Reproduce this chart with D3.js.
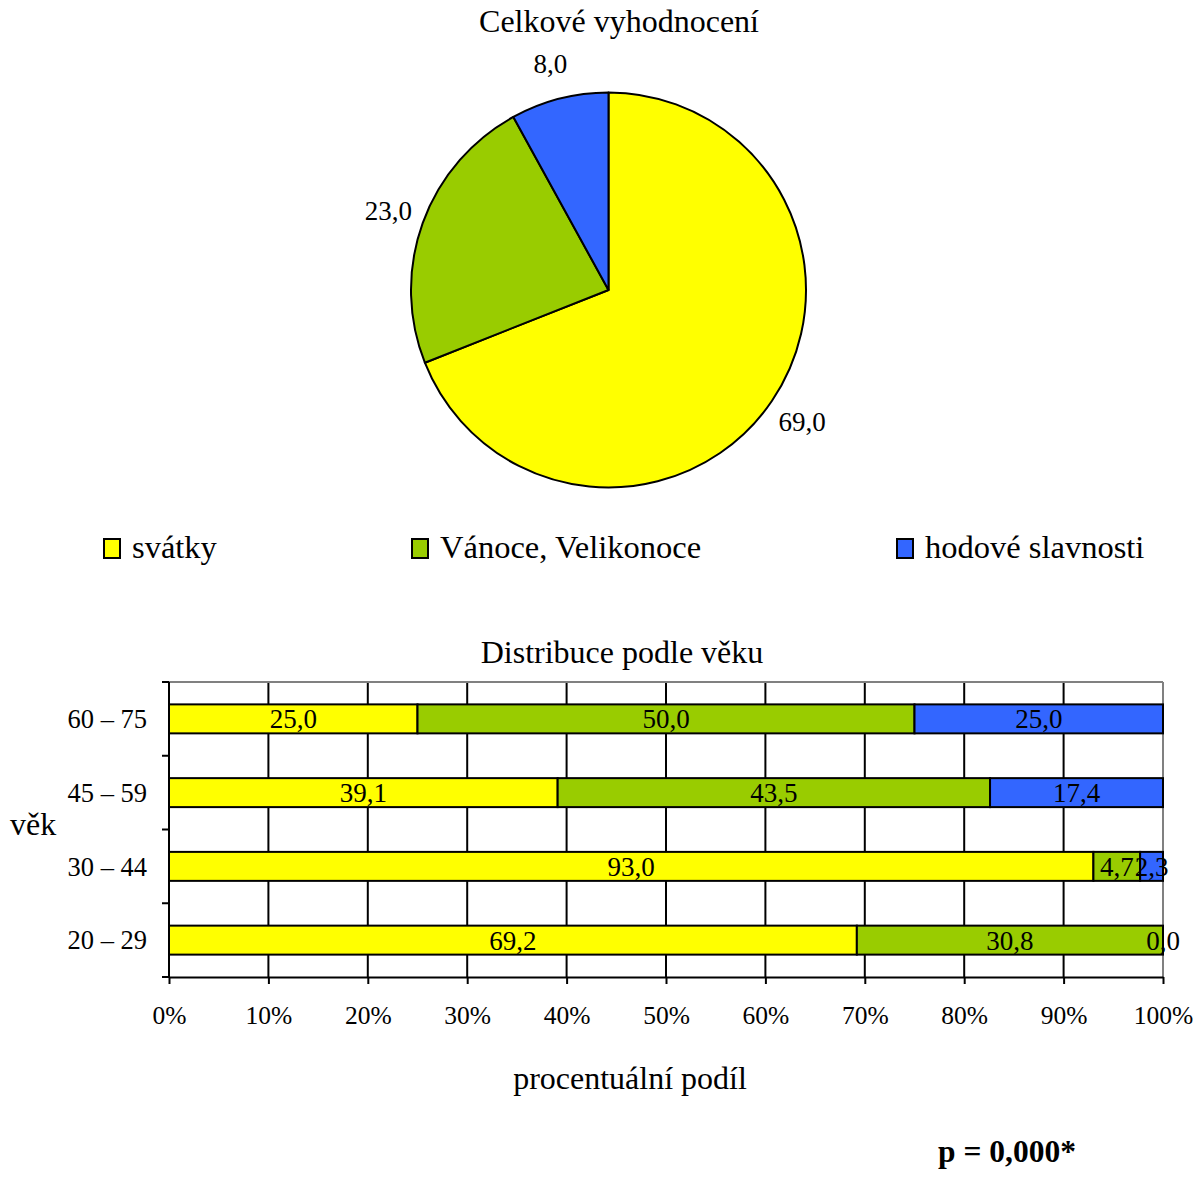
<!DOCTYPE html>
<html>
<head>
<meta charset="utf-8">
<script src="https://cdn.jsdelivr.net/npm/d3@7"></script>
<style>
html,body{margin:0;padding:0;background:#fff;}
svg, svg text{font-family:"Liberation Serif","Times New Roman",serif !important;fill:#000;}
</style>
</head>
<body>
<svg id="c" width="1204" height="1177"></svg>
<script>
// ---- data ----
const seriesNames = ["svátky", "Vánoce, Velikonoce", "hodové slavnosti"];
const seriesColors = ["#FFFF00", "#99CC00", "#3366FF"];
const pieValues = [69.0, 23.0, 8.0];
const ageGroups = ["60 – 75", "45 – 59", "30 – 44", "20 – 29"];
const svatky = [25.0, 39.1, 93.0, 69.2];
const vanoce = [50.0, 43.5, 4.7, 30.8];
const hodove = [25.0, 17.4, 2.3, 0.0];
const xTicks = [0, 10, 20, 30, 40, 50, 60, 70, 80, 90, 100];
const xTickLabels = ["0%","10%","20%","30%","40%","50%","60%","70%","80%","90%","100%"];

(function () {
const FONT = '"Liberation Serif", "Times New Roman", serif';
const fmt = v => v.toFixed(1).replace(".", ",");
const svg = d3.select("#c");

// ---- pie ----
svg.append("text").attr("x", 619).attr("y", 32).attr("text-anchor", "middle")
  .attr("font-size", 32).text("Celkové vyhodnocení");

const cx = 608.5, cy = 290, R = 197.5;
const pie = d3.pie().sort(null).value(d => d);
const arcs = pie(pieValues);
const arc = d3.arc().innerRadius(0).outerRadius(R);
const labelArc = d3.arc().innerRadius(234).outerRadius(234);
const gp = svg.append("g").attr("transform", `translate(${cx},${cy})`);
gp.selectAll("path").data(arcs).join("path")
  .attr("d", arc).attr("fill", (d, i) => seriesColors[i])
  .attr("stroke", "#000").attr("stroke-width", 2).attr("stroke-linejoin", "round");
gp.selectAll("text").data(arcs).join("text")
  .attr("transform", d => `translate(${labelArc.centroid(d)})`)
  .attr("text-anchor", "middle").attr("dy", "0.35em")
  .attr("font-size", 27).text(d => fmt(d.data));

// ---- legend ----
const legendX = [104, 412, 897];
const lg = svg.append("g");
seriesNames.forEach((n, i) => {
  lg.append("rect").attr("x", legendX[i]).attr("y", 539).attr("width", 16).attr("height", 19)
    .attr("fill", seriesColors[i]).attr("stroke", "#000").attr("stroke-width", 2);
  lg.append("text").attr("x", legendX[i] + 28).attr("y", 558).attr("font-size", 32.5).text(n);
});

// ---- bar chart ----
svg.append("text").attr("x", 622).attr("y", 663).attr("text-anchor", "middle")
  .attr("font-size", 32).text("Distribuce podle věku");

const pL = 169, pR = 1163, pT = 682, pB = 977;
const x = d3.scaleLinear().domain([0, 100]).range([pL, pR]);
const pad = 0.607;
const y = d3.scaleBand().domain(ageGroups).range([pT, pB]).paddingInner(pad).paddingOuter(pad / 2);

// gridlines
svg.append("g").selectAll("line").data(xTicks.filter(t => t > 0 && t < 100)).join("line")
  .attr("x1", d => x(d)).attr("x2", d => x(d)).attr("y1", pT).attr("y2", pB)
  .attr("stroke", "#000").attr("stroke-width", 2);
// plot border (top, right) gray
svg.append("line").attr("x1", pL).attr("x2", pR).attr("y1", pT).attr("y2", pT)
  .attr("stroke", "#808080").attr("stroke-width", 2);
svg.append("line").attr("x1", pR).attr("x2", pR).attr("y1", pT).attr("y2", pB)
  .attr("stroke", "#808080").attr("stroke-width", 2);

// stacked bars
const series = [svatky, vanoce, hodove];
const rows = ageGroups.map((g, i) => ({ g, v: series.map(s => s[i]) }));
const gb = svg.append("g");
rows.forEach(r => {
  let acc = 0;
  r.v.forEach((v, k) => {
    const x0 = acc, x1 = acc + v;
    gb.append("rect").attr("x", x(x0)).attr("y", y(r.g)).attr("width", x(x1) - x(x0))
      .attr("height", y.bandwidth()).attr("fill", seriesColors[k])
      .attr("stroke", "#000").attr("stroke-width", 2);
    acc = x1;
  });
});
rows.forEach(r => {
  let acc = 0;
  r.v.forEach((v, k) => {
    const mid = acc + v / 2;
    gb.append("text").attr("x", x(mid)).attr("y", y(r.g) + y.bandwidth() / 2)
      .attr("dy", "0.35em").attr("text-anchor", "middle").attr("font-size", 27).text(fmt(v));
    acc += v;
  });
});

// x axis
const xAxis = d3.axisBottom(x).tickValues(xTicks).tickFormat((d, i) => xTickLabels[i])
  .tickSize(7).tickSizeOuter(0).tickPadding(22);
const gx = svg.append("g").attr("transform", `translate(0,${pB})`).call(xAxis)
  .attr("font-family", FONT).attr("font-size", 25.5);
gx.select(".domain").attr("stroke", "#000").attr("stroke-width", 2);
gx.selectAll(".tick line").attr("stroke", "#000").attr("stroke-width", 2);
gx.selectAll(".tick text").attr("fill", "#000");

// y axis: ticks at band boundaries
const yAxisG = svg.append("g");
yAxisG.append("line").attr("x1", pL).attr("x2", pL).attr("y1", pT).attr("y2", pB)
  .attr("stroke", "#000").attr("stroke-width", 2);
const bounds = d3.range(ageGroups.length + 1).map(i => pT + i * y.step());
yAxisG.selectAll("line.t").data(bounds).join("line").attr("class", "t")
  .attr("x1", pL - 7).attr("x2", pL).attr("y1", d => d).attr("y2", d => d)
  .attr("stroke", "#000").attr("stroke-width", 2);
yAxisG.selectAll("text").data(ageGroups).join("text")
  .attr("x", 147).attr("y", d => y(d) + y.bandwidth() / 2).attr("dy", "0.35em")
  .attr("text-anchor", "end").attr("font-size", 26.5).text(d => d);

svg.append("text").attr("x", 10).attr("y", 835).attr("font-size", 32).text("věk");
svg.append("text").attr("x", 630).attr("y", 1089).attr("text-anchor", "middle")
  .attr("font-size", 32).text("procentuální podíl");
svg.append("text").attr("x", 1007).attr("y", 1162).attr("text-anchor", "middle")
  .attr("font-size", 31.5).attr("font-weight", "bold").text("p = 0,000*");

svg.selectAll("text").style("font-family", FONT);
})();
</script>
</body>
</html>
